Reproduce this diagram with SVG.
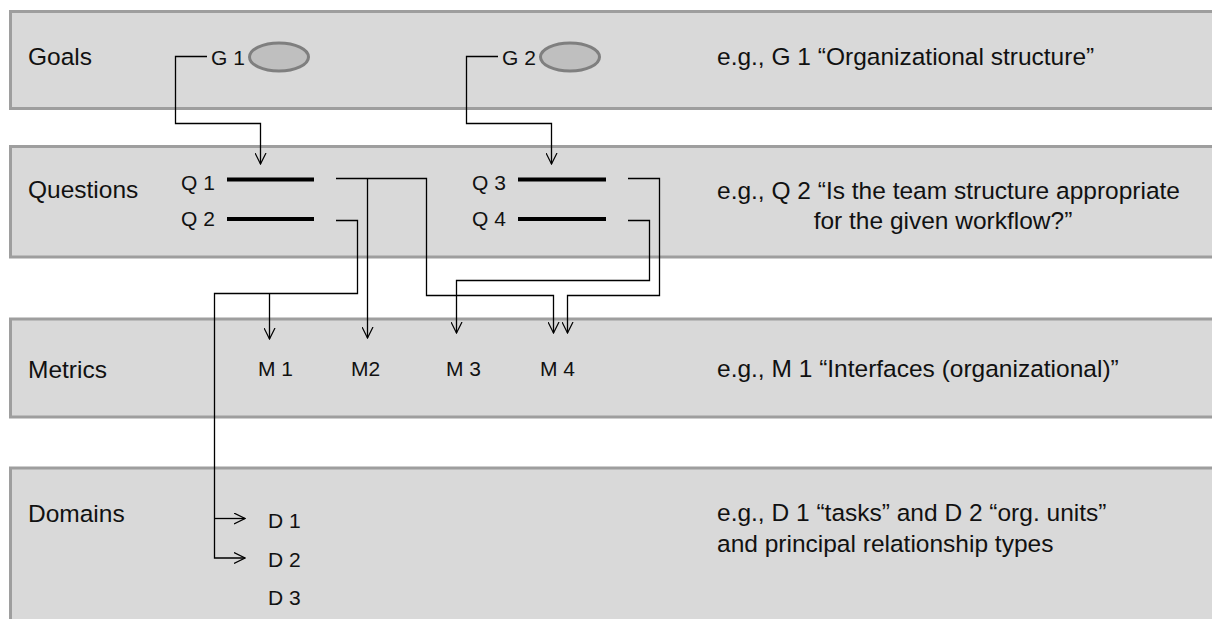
<svg xmlns="http://www.w3.org/2000/svg" width="1212" height="619" viewBox="0 0 1212 619">
<defs>
<marker id="arr" viewBox="0 0 12 12" refX="11.5" refY="6" markerWidth="12" markerHeight="12" markerUnits="userSpaceOnUse" orient="auto">
<path d="M0.5,0.5 L11.5,6 L0.5,11.5" fill="none" stroke="#000" stroke-width="1.2"/>
</marker>
</defs>
<style>
.band{fill:#d9d9d9;stroke:#9e9e9e;stroke-width:3}
.lbl{font-family:"Liberation Sans",Arial,sans-serif;font-size:24.5px;fill:#111}
.sm{font-family:"Liberation Sans",Arial,sans-serif;font-size:21px;fill:#111}
.goal{fill:#bfbfbf;stroke:#7f7f7f;stroke-width:3}
.q{stroke:#000;stroke-width:4}
.c{fill:none;stroke:#000;stroke-width:1.3}
.ca{fill:none;stroke:#000;stroke-width:1.3;marker-end:url(#arr)}
</style>
<g id="band-goals"><rect class="band" x="10.5" y="11.5" width="1215" height="97"/><text class="lbl" x="28" y="65">Goals</text><text class="lbl" x="717" y="65">e.g., G 1 “Organizational structure”</text></g>
<g id="band-questions"><rect class="band" x="10.5" y="146.5" width="1215" height="110.5"/><text class="lbl" x="28" y="198">Questions</text><text class="lbl" x="717" y="199">e.g., Q 2 “Is the team structure appropriate</text><text class="lbl" x="943" y="229" text-anchor="middle">for the given workflow?”</text></g>
<g id="band-metrics"><rect class="band" x="10.5" y="319" width="1215" height="98"/><text class="lbl" x="28" y="378">Metrics</text><text class="lbl" x="717" y="377">e.g., M 1 “Interfaces (organizational)”</text></g>
<g id="band-domains"><rect class="band" x="10.5" y="468" width="1215" height="170"/><text class="lbl" x="28" y="522">Domains</text><text class="lbl" x="717" y="521">e.g., D 1 “tasks” and D 2 “org. units”</text><text class="lbl" x="717" y="552">and principal relationship types</text></g>
<g id="G1"><text class="sm" x="211" y="65">G 1</text><ellipse class="goal" cx="279" cy="57" rx="29.5" ry="14"/></g>
<g id="G2"><text class="sm" x="502" y="65">G 2</text><ellipse class="goal" cx="570" cy="57" rx="29.5" ry="14"/></g>
<g id="Q1"><text class="sm" x="181" y="190">Q 1</text><line class="q" x1="227" y1="179.5" x2="314" y2="179.5"/></g>
<g id="Q2"><text class="sm" x="181" y="226">Q 2</text><line class="q" x1="227" y1="219" x2="314" y2="219"/></g>
<g id="Q3"><text class="sm" x="472" y="190">Q 3</text><line class="q" x1="518" y1="179.5" x2="606" y2="179.5"/></g>
<g id="Q4"><text class="sm" x="472" y="226">Q 4</text><line class="q" x1="518" y1="219" x2="606" y2="219"/></g>
<g id="M1"><text class="sm" x="258" y="376">M 1</text></g>
<g id="M2"><text class="sm" x="351" y="376">M2</text></g>
<g id="M3"><text class="sm" x="446" y="376">M 3</text></g>
<g id="M4"><text class="sm" x="540" y="376">M 4</text></g>
<g id="D1"><text class="sm" x="268" y="528">D 1</text></g>
<g id="D2"><text class="sm" x="268" y="567">D 2</text></g>
<g id="D3"><text class="sm" x="268" y="605">D 3</text></g>
<g id="connectors">
<path class="ca" d="M207,56.5 H175.5 V123.5 H260.5 V164"/>
<path class="ca" d="M498,56.5 H466.5 V123.5 H551.5 V164"/>
<path class="ca" d="M336,178.5 H426.5 V295.5 H553.5 V333"/>
<path class="ca" d="M367.5,178.5 V338"/>
<path class="ca" d="M336,220.5 H357.5 V293.5 H214.5 V558 H245"/>
<path class="ca" d="M214.5,518.5 H245"/>
<path class="ca" d="M269.5,293.5 V339"/>
<path class="ca" d="M628,178.5 H659.5 V295.5 H567.5 V333"/>
<path class="ca" d="M628,220.5 H649.5 V280.5 H456.5 V333"/>
</g>
</svg>
